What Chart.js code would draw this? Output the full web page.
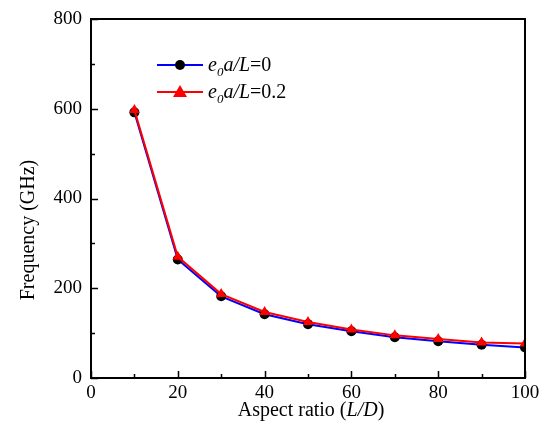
<!DOCTYPE html>
<html>
<head>
<meta charset="utf-8">
<script src="https://cdn.jsdelivr.net/npm/chart.js@4/dist/chart.umd.min.js"></script>
<style>
  body { margin: 0; background: #fff; }
</style>
</head>
<body>
<canvas id="freqChart" width="547" height="442"></canvas>
<script>
// aspect ratio L/D
const aspectRatio = [10, 20, 30, 40, 50, 60, 70, 80, 90, 100];
// frequency (GHz) for e0a/L = 0
const freqLocal = [592, 264, 182, 142, 120, 104, 91, 82, 74, 68];
// frequency (GHz) for e0a/L = 0.2
const freqNonlocal = [597, 270, 187, 147, 125, 108, 95, 87, 79, 77];
const xTicks = [0, 20, 40, 60, 80, 100];
const yTicks = [0, 200, 400, 600, 800];

const serif = "'Liberation Serif', 'Times New Roman', serif";

const toPoints = (xs, ys) => xs.map((x, i) => ({ x: x, y: ys[i] }));

// box, inward ticks, titles and legend
const decorations = {
    id: 'decorations',
    afterDraw(chart) {
        const c = chart.ctx;
        const a = chart.chartArea;
        const xs = chart.scales.x, ys = chart.scales.y;
        c.save();
        c.strokeStyle = '#000';
        c.lineWidth = 2;
        c.strokeRect(a.left, a.top, a.right - a.left, a.bottom - a.top);

        c.lineWidth = 1.5;
        c.beginPath();
        for (let v = 0; v <= 100; v += 10) {
            const p = Math.round(xs.getPixelForValue(v)) + 0.5;
            const len = v % 20 === 0 ? 7 : 4;
            c.moveTo(p, a.bottom); c.lineTo(p, a.bottom - len);
        }
        for (let v = 0; v <= 800; v += 100) {
            const p = Math.round(ys.getPixelForValue(v)) + 0.5;
            const len = v % 200 === 0 ? 7 : 4;
            c.moveTo(a.left, p); c.lineTo(a.left + len, p);
        }
        c.stroke();

        c.fillStyle = '#000';
        c.textBaseline = 'alphabetic';
        // x title with italic L/D
        const parts = [['Aspect ratio (', ''], ['L/D', 'italic '], [')', '']];
        let w = 0;
        parts.forEach(p => { c.font = p[1] + '20px ' + serif; w += c.measureText(p[0]).width; });
        let x = (a.left + a.right) / 2 + 3 - w / 2;
        parts.forEach(p => {
            c.font = p[1] + '20px ' + serif;
            c.fillText(p[0], x, 416);
            x += c.measureText(p[0]).width;
        });

        // y title
        c.save();
        c.translate(34, 230);
        c.rotate(-Math.PI / 2);
        c.textAlign = 'center';
        c.font = '20px ' + serif;
        c.fillText('Frequency (GHz)', 0, 0);
        c.restore();

        // legend
        const rows = [
            { color: '#0000ff', label: '=0', y: 65, tri: false },
            { color: '#ff0000', label: '=0.2', y: 92, tri: true }
        ];
        rows.forEach(r => {
            c.strokeStyle = r.color;
            c.lineWidth = 2;
            c.beginPath();
            c.moveTo(157, r.y); c.lineTo(203, r.y);
            c.stroke();
            if (r.tri) {
                c.fillStyle = '#ff0000';
                c.beginPath();
                c.moveTo(180, r.y - 7); c.lineTo(187, r.y + 5); c.lineTo(173, r.y + 5);
                c.closePath(); c.fill();
            } else {
                c.fillStyle = '#000';
                c.beginPath(); c.arc(180, r.y, 5, 0, Math.PI * 2); c.fill();
            }
            c.fillStyle = '#000';
            let tx = 208;
            const by = r.y + 6;
            c.font = 'italic 20px ' + serif;
            c.fillText('e', tx, by); tx += c.measureText('e').width;
            c.font = 'italic 13px ' + serif;
            c.fillText('0', tx, by + 5); tx += c.measureText('0').width;
            c.font = 'italic 20px ' + serif;
            c.fillText('a/L', tx, by); tx += c.measureText('a/L').width;
            c.font = '20px ' + serif;
            c.fillText(r.label, tx, by);
        });
        c.restore();
    }
};

new Chart(document.getElementById('freqChart').getContext('2d'), {
    type: 'line',
    data: {
        datasets: [{
            label: 'e0a/L=0',
            data: toPoints(aspectRatio, freqLocal),
            borderColor: '#0000ff',
            borderWidth: 2,
            pointStyle: 'circle',
            pointRadius: 5,
            pointBackgroundColor: '#000',
            pointBorderColor: '#000',
            pointBorderWidth: 0,
            order: 1,
            fill: false
        }, {
            label: 'e0a/L=0.2',
            data: toPoints(aspectRatio, freqNonlocal),
            borderColor: '#ff0000',
            borderWidth: 2,
            pointStyle: 'triangle',
            pointRadius: 6,
            pointBackgroundColor: '#ff0000',
            pointBorderColor: '#ff0000',
            pointBorderWidth: 0,
            order: 0,
            fill: false
        }]
    },
    options: {
        responsive: false,
        animation: false,
        layout: { padding: { top: 19, right: 22, left: 0, bottom: 0 } },
        plugins: { legend: { display: false }, tooltip: { enabled: false } },
        scales: {
            x: {
                type: 'linear',
                min: 0, max: 100,
                afterBuildTicks: s => { s.ticks = xTicks.map(v => ({ value: v })); },
                afterFit: s => { s.height = 64; },
                grid: { display: false },
                border: { display: false },
                ticks: { color: '#000', font: { family: serif, size: 19 }, padding: -4, maxRotation: 0 }
            },
            y: {
                min: 0, max: 800,
                afterBuildTicks: s => { s.ticks = yTicks.map(v => ({ value: v })); },
                afterFit: s => { s.width = 91; },
                grid: { display: false },
                border: { display: false },
                ticks: { color: '#000', font: { family: serif, size: 19 }, padding: 1 }
            }
        }
    },
    plugins: [decorations]
});
</script>
</body>
</html>
